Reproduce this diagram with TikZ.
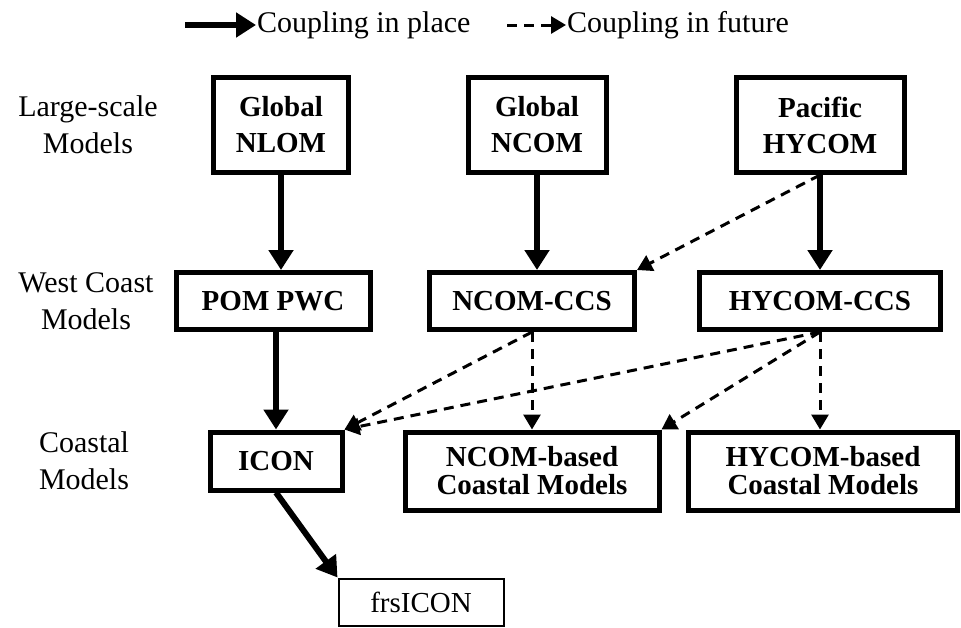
\documentclass[tikz,border=0pt]{standalone}
\usepackage{fontspec}
\setmainfont{Liberation Serif}
\usetikzlibrary{arrows.meta}

\begin{document}
\begin{tikzpicture}[x = 1pt, y = -1pt,
  model/.style = {draw, line width = 5pt, align = center, inner sep = 0pt,
    font = \fontsize{29}{36}\selectfont\bfseries},
  coastal/.style = {model, font = \fontsize{29}{28}\selectfont\bfseries},
  tier/.style = {align = center, inner sep = 1pt, font = \fontsize{30}{37}\selectfont},
  inplace/.style = {line width = 6pt, -{Triangle[length = 20pt, width = 24pt]}},
  future/.style = {line width = 3pt, dash pattern = on 10pt off 7pt,
    -{Triangle[length = 15pt, width = 17pt]}}]
\useasboundingbox (0, 0) rectangle (961, 627);
% Legend
\coordinate (legsolid) at (185, 25);
\coordinate (legdash) at (507, 25);
\node[tier, anchor = west] (placetext) at (256, 25) {Coupling in place};
\node[tier, anchor = west] (futuretext) at (566, 25) {Coupling in future};
\draw[inplace] (legsolid) -- (placetext.west);
\draw[future] (legdash) -- (futuretext.west);
% Row labels
\node[tier] (large) at (88, 125) {Large-scale\\Models};
\node[tier] (wcoast) at (86, 301) {West Coast\\Models};
\node[tier] (coast) at (84, 461) {Coastal\\Models};
% Large-scale models
\node[model, minimum width = 135pt, minimum height = 95pt] (nlom) at (281, 125) {Global\\NLOM};
\node[model, minimum width = 138pt, minimum height = 95pt] (ncom) at (537, 125) {Global\\NCOM};
\node[model, minimum width = 168pt, minimum height = 95pt] (hycom) at (820, 125) {Pacific\\HYCOM};
% West coast models
\node[model, minimum width = 194pt, minimum height = 57pt] (pom) at (273, 301) {POM PWC};
\node[model, minimum width = 205pt, minimum height = 57pt] (ncomccs) at (532, 301) {NCOM-CCS};
\node[model, minimum width = 241pt, minimum height = 57pt] (hycomccs) at (820, 301) {HYCOM-CCS};
% Coastal models
\node[model, minimum width = 132pt, minimum height = 58pt] (icon) at (276, 461) {ICON};
\node[coastal, minimum width = 254pt, minimum height = 78pt] (ncombased) at (532, 471) {NCOM-based\\Coastal Models};
\node[coastal, minimum width = 269pt, minimum height = 78pt] (hycombased) at (823, 471) {HYCOM-based\\Coastal Models};
\node[draw, line width = 2pt, minimum width = 165pt, minimum height = 47pt, inner sep = 0pt,
  font = \fontsize{29}{36}\selectfont] (frsicon) at (421, 602) {frsICON};
% Coupling in place
\draw[inplace] (nlom.south) -- (nlom.south |- pom.north);
\draw[inplace] (ncom.south) -- (ncom.south |- ncomccs.north);
\draw[inplace] (hycom.south) -- (hycom.south |- hycomccs.north);
\draw[inplace] (pom.south -| icon.north) -- (icon.north);
\draw[inplace] (icon.south) -- (frsicon.north west);
% Coupling in future
\draw[future] (hycom.south) -- (ncomccs.north east);
\draw[future] (ncomccs.south) -- (icon.north east);
\draw[future] (ncomccs.south) -- (ncombased.north);
\draw[future] (hycomccs.south) -- (icon.north east);
\draw[future] (hycomccs.south) -- (ncombased.north east);
\draw[future] (hycomccs.south) -- (hycombased.north -| hycomccs.south);
\end{tikzpicture}
\end{document}
